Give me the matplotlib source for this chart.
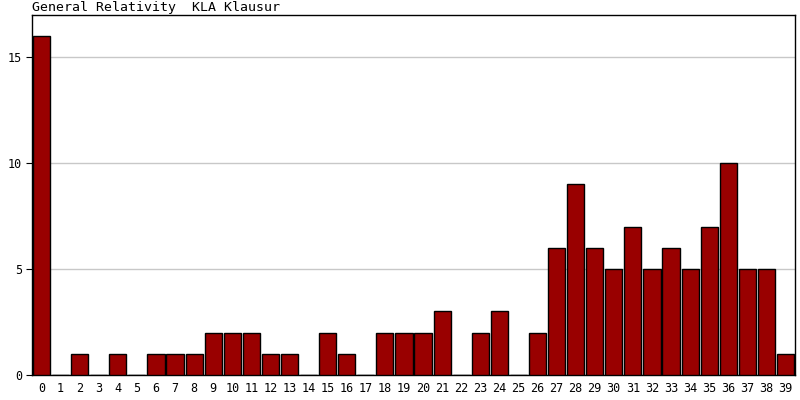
import matplotlib
matplotlib.use("Agg")
import matplotlib.pyplot as plt

title = "General Relativity  KLA Klausur"
categories = [str(i) for i in range(40)]
values = [16, 0, 1, 0, 1, 0, 1, 1, 1, 2, 2, 2, 1, 1, 0, 2, 1, 0, 2, 2,
          2, 3, 0, 2, 3, 0, 2, 6, 9, 6, 5, 7, 5, 6, 5, 7, 10, 5, 5, 1]
yticks = [0, 5, 10, 15]

plt.rcParams['font.family'] = ['DejaVu Sans Mono']
fig = plt.figure(figsize=(8, 4), dpi=100)
ax = fig.add_axes([32/800, 25/400, 763/800, 360/400])
x = list(range(len(categories)))
ax.bar(x, values, width=0.9, color='#990000', edgecolor='black', linewidth=1, zorder=3)
ax.set_xlim(-0.5, len(categories) - 0.5)
ax.set_ylim(0, 17)
ax.set_yticks(yticks)
ax.set_yticklabels([str(v) for v in yticks], fontsize=8.5)
ax.set_xticks(x)
ax.set_xticklabels(categories, fontsize=8.5)
ax.tick_params(axis='x', length=0, pad=5)
ax.tick_params(axis='y', length=4, pad=3)
ax.yaxis.grid(True, color='#c8c8c8', linewidth=1, zorder=0)
ax.set_axisbelow(True)
for s in ax.spines.values():
    s.set_color('black')
    s.set_linewidth(1)
fig.text(32/800, 1 - 1/400, title, fontsize=9.5, ha='left', va='top')
fig.savefig('out.png', dpi=100)
